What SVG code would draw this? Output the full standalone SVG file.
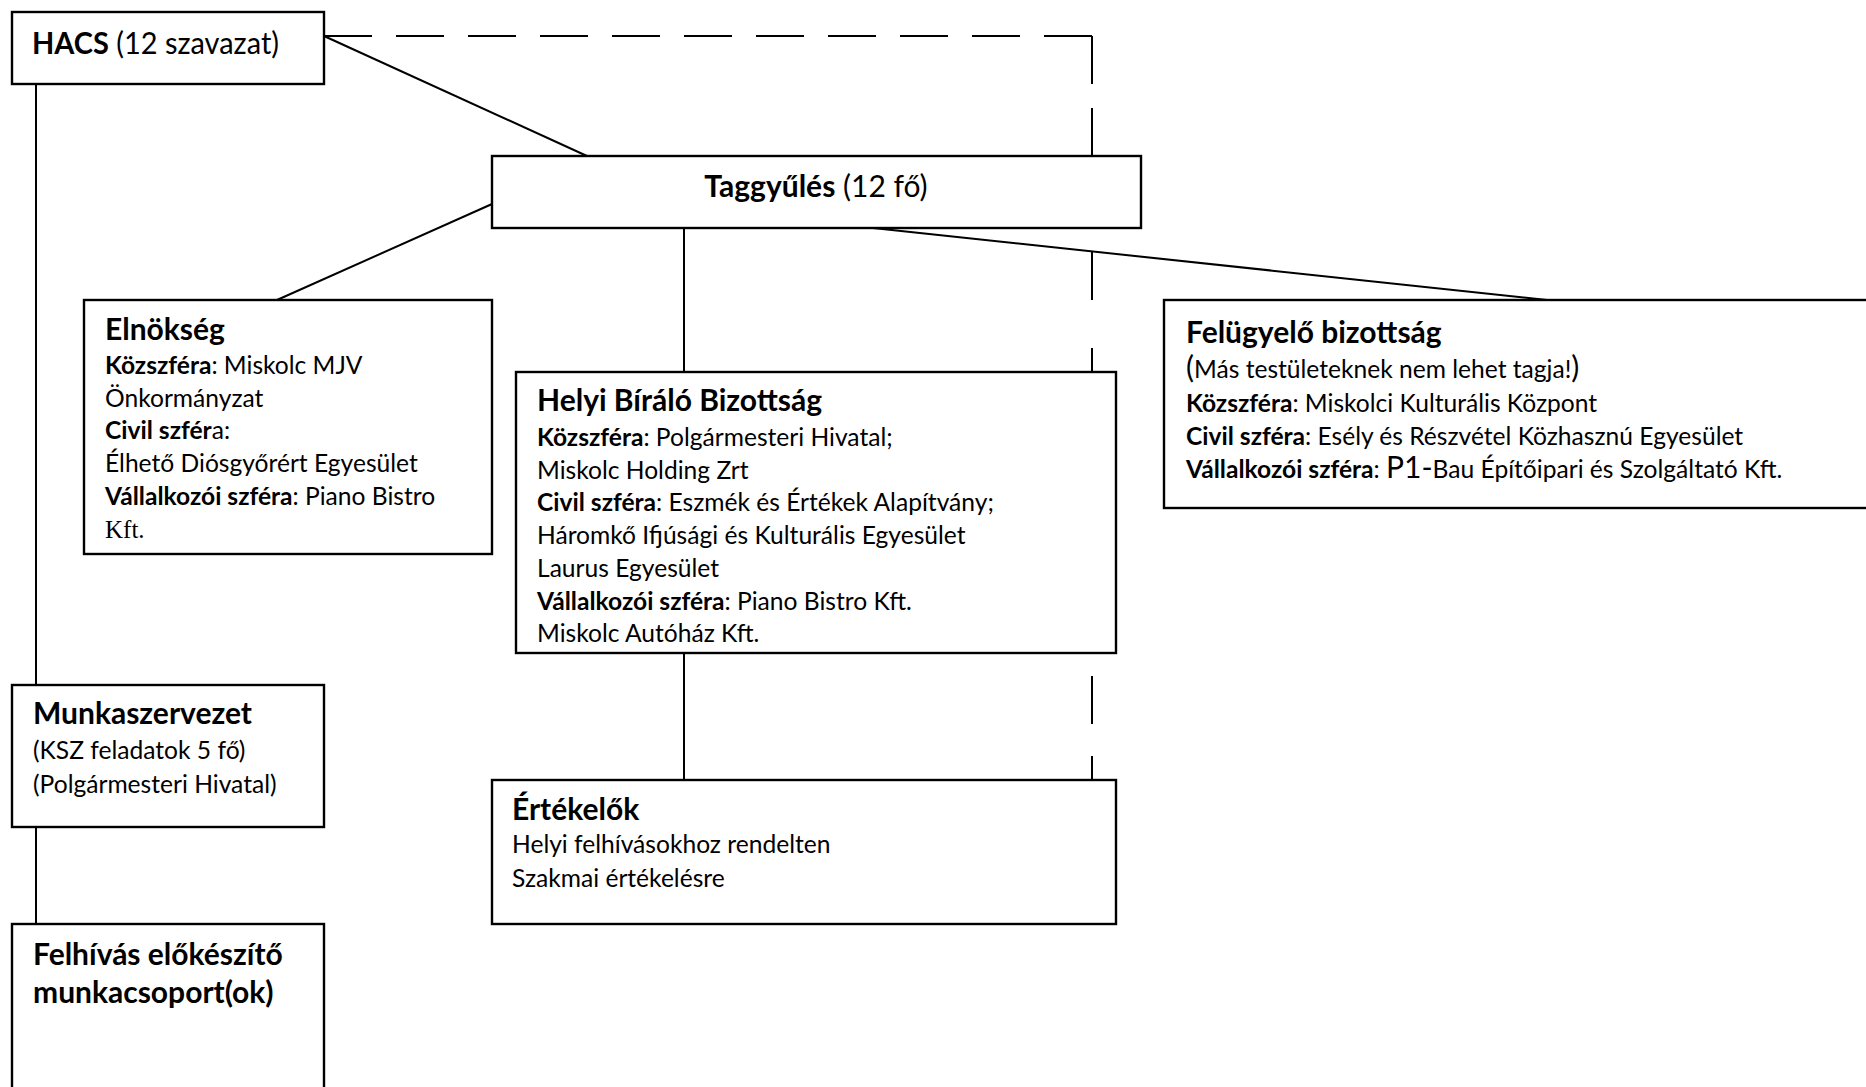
<svg xmlns="http://www.w3.org/2000/svg" width="1866" height="1087" viewBox="0 0 1866 1087">
<style>
  .box{fill:#fff;stroke:#000;stroke-width:2.4}
  .ln{fill:none;stroke:#000;stroke-width:2}
  .dash{fill:none;stroke:#000;stroke-width:2;stroke-dasharray:48 24}
  text{font-family:Lato,"Open Sans","Liberation Sans",sans-serif;fill:#000}
  .t{font-size:30px;font-weight:bold}
  .b{font-size:24.6px}
  .bb{font-weight:bold}
  .rg{font-weight:normal}
  .big{font-size:30px}
  .serif{font-family:"Liberation Serif",serif;font-size:25px}
</style>
<rect width="1866" height="1087" fill="#fff"/>

<g id="connectors">
  <line class="ln" x1="324" y1="36" x2="587" y2="156"/>
  <line class="ln" x1="492" y1="204" x2="277" y2="300"/>
  <line class="ln" x1="684" y1="228" x2="684" y2="372"/>
  <line class="ln" x1="873" y1="228" x2="1547" y2="300"/>
  <line class="ln" x1="684" y1="653" x2="684" y2="780"/>
  <line class="ln" x1="36" y1="84" x2="36" y2="685"/>
  <line class="ln" x1="36" y1="827" x2="36" y2="924"/>
  <path class="dash" d="M324,36 H1092"/>
  <path class="dash" d="M1092,36 V156"/>
  <path class="dash" style="stroke-dasharray:48 48" d="M1092,252 V372"/>
  <path class="dash" style="stroke-dasharray:48 32" d="M1092,676 V780"/>
</g>

<g id="hacs">
  <rect class="box" x="12" y="12" width="312" height="72"/>
  <text class="t" x="32" y="54" textLength="247" lengthAdjust="spacingAndGlyphs">HACS<tspan class="rg"> (12 szavazat)</tspan></text>
</g>

<g id="taggyules">
  <rect class="box" x="492" y="156" width="649" height="72"/>
  <text class="t" x="816" y="197" text-anchor="middle">Taggyűlés<tspan class="rg"> (12 fő)</tspan></text>
</g>

<g id="elnokseg">
  <rect class="box" x="84" y="300" width="408" height="254"/>
  <text class="t" x="105" y="340">Elnökség</text>
  <text class="b" x="105" y="374"><tspan class="bb">Közszféra</tspan>: Miskolc MJV</text>
  <text class="b" x="105" y="406.7">Önkormányzat</text>
  <text class="b" x="105" y="439.4"><tspan class="bb">Civil szfér</tspan>a:</text>
  <text class="b" x="105" y="472">Élhető Diósgyőrért Egyesület</text>
  <text class="b" x="105" y="504.8"><tspan class="bb">Vállalkozói szféra</tspan>: Piano Bistro</text>
  <text class="serif" x="105" y="537.5">Kft.</text>
</g>

<g id="helyi-biralo-bizottsag">
  <rect class="box" x="516" y="372" width="600" height="281"/>
  <text class="t" x="537" y="411">Helyi Bíráló Bizottság</text>
  <text class="b" x="537" y="446"><tspan class="bb">Közszféra</tspan>: Polgármesteri Hivatal;</text>
  <text class="b" x="537" y="478.7">Miskolc Holding Zrt</text>
  <text class="b" x="537" y="511.4"><tspan class="bb">Civil szféra</tspan>: Eszmék és Értékek Alapítvány;</text>
  <text class="b" x="537" y="544">Háromkő Ifjúsági és Kulturális Egyesület</text>
  <text class="b" x="537" y="576.8">Laurus Egyesület</text>
  <text class="b" x="537" y="609.5"><tspan class="bb">Vállalkozói szféra</tspan>: Piano Bistro Kft.</text>
  <text class="b" x="537" y="642.2">Miskolc Autóház Kft.</text>
</g>

<g id="felugyelo-bizottsag">
  <rect class="box" x="1164" y="300" width="720" height="208"/>
  <text class="t" x="1186" y="343">Felügyelő bizottság</text>
  <text class="b" x="1186" y="378"><tspan class="big">(</tspan>Más testületeknek nem lehet tagja!<tspan class="big">)</tspan></text>
  <text class="b" x="1186" y="412"><tspan class="bb">Közszféra</tspan>: Miskolci Kulturális Központ</text>
  <text class="b" x="1186" y="444.5"><tspan class="bb">Civil szféra</tspan>: Esély és Részvétel Közhasznú Egyesület</text>
  <text class="b" x="1186" y="478"><tspan class="bb">Vállalkozói szféra</tspan>: <tspan class="big">P1-</tspan>Bau Építőipari és Szolgáltató Kft.</text>
</g>

<g id="munkaszervezet">
  <rect class="box" x="12" y="685" width="312" height="142"/>
  <text class="t" x="33" y="724">Munkaszervezet</text>
  <text class="b" x="33" y="759">(KSZ feladatok 5 fő)</text>
  <text class="b" x="33" y="793">(Polgármesteri Hivatal)</text>
</g>

<g id="felhivas-elokeszito">
  <rect class="box" x="12" y="924" width="312" height="200"/>
  <text class="t" x="33" y="965">Felhívás előkészítő</text>
  <text class="t" x="33" y="1003">munkacsoport(ok)</text>
</g>

<g id="ertekelok">
  <rect class="box" x="492" y="780" width="624" height="144"/>
  <text class="t" x="512" y="820">Értékelők</text>
  <text class="b" x="512" y="853">Helyi felhívásokhoz rendelten</text>
  <text class="b" x="512" y="886.5">Szakmai értékelésre</text>
</g>
</svg>
